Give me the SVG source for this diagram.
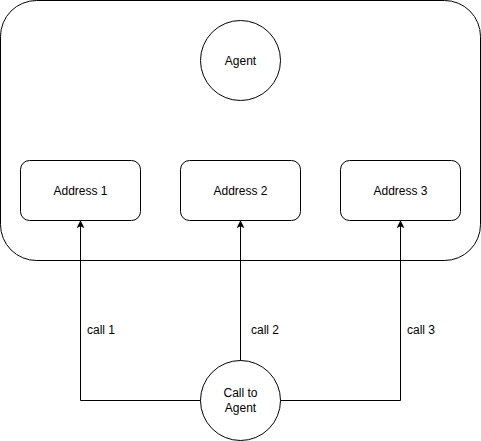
<svg xmlns="http://www.w3.org/2000/svg" width="481" height="441" viewBox="0 0 481 441">
  <style>
    .shape { fill: #ffffff; stroke: #000000; stroke-width: 1; }
    .label { font-family: "Liberation Sans", Arial, sans-serif; font-size: 12px; fill: #000000; }
    .mid { text-anchor: middle; dominant-baseline: central; }
    .edge { fill: none; stroke: #000000; stroke-width: 1; }
  </style>
  <defs>
    <marker id="arrow" viewBox="0 0 10 10" refX="9" refY="5" markerWidth="8" markerHeight="8" markerUnits="userSpaceOnUse" orient="auto">
      <path d="M0,0 L10,5 L0,10 L2.5,5 Z" fill="#000000"/>
    </marker>
  </defs>

  <g id="container">
    <rect class="shape" x="0.5" y="0.5" width="480" height="260" rx="36" ry="36"/>
  </g>

  <g id="agent">
    <circle class="shape" cx="240.5" cy="60.5" r="40"/>
    <text class="label mid" x="240.5" y="60.5">Agent</text>
  </g>

  <g id="address1">
    <rect class="shape" x="20.5" y="160.5" width="120" height="60" rx="9" ry="9"/>
    <text class="label mid" x="80.5" y="190.5">Address 1</text>
  </g>
  <g id="address2">
    <rect class="shape" x="180.5" y="160.5" width="120" height="60" rx="9" ry="9"/>
    <text class="label mid" x="240.5" y="190.5">Address 2</text>
  </g>
  <g id="address3">
    <rect class="shape" x="340.5" y="160.5" width="120" height="60" rx="9" ry="9"/>
    <text class="label mid" x="400.5" y="190.5">Address 3</text>
  </g>

  <g id="call-to-agent">
    <circle class="shape" cx="240.5" cy="400.5" r="40"/>
    <text class="label mid" x="240.5" y="393">Call to</text>
    <text class="label mid" x="240.5" y="408">Agent</text>
  </g>

  <g id="connectors">
    <path class="edge" d="M200.5,400.5 H80.5 V221" marker-end="url(#arrow)"/>
    <path class="edge" d="M240.5,360.5 V221" marker-end="url(#arrow)"/>
    <path class="edge" d="M280.5,400.5 H400.5 V221" marker-end="url(#arrow)"/>
    <text class="label" x="87" y="334">call 1</text>
    <text class="label" x="251" y="334">call 2</text>
    <text class="label" x="407" y="334">call 3</text>
  </g>
</svg>
